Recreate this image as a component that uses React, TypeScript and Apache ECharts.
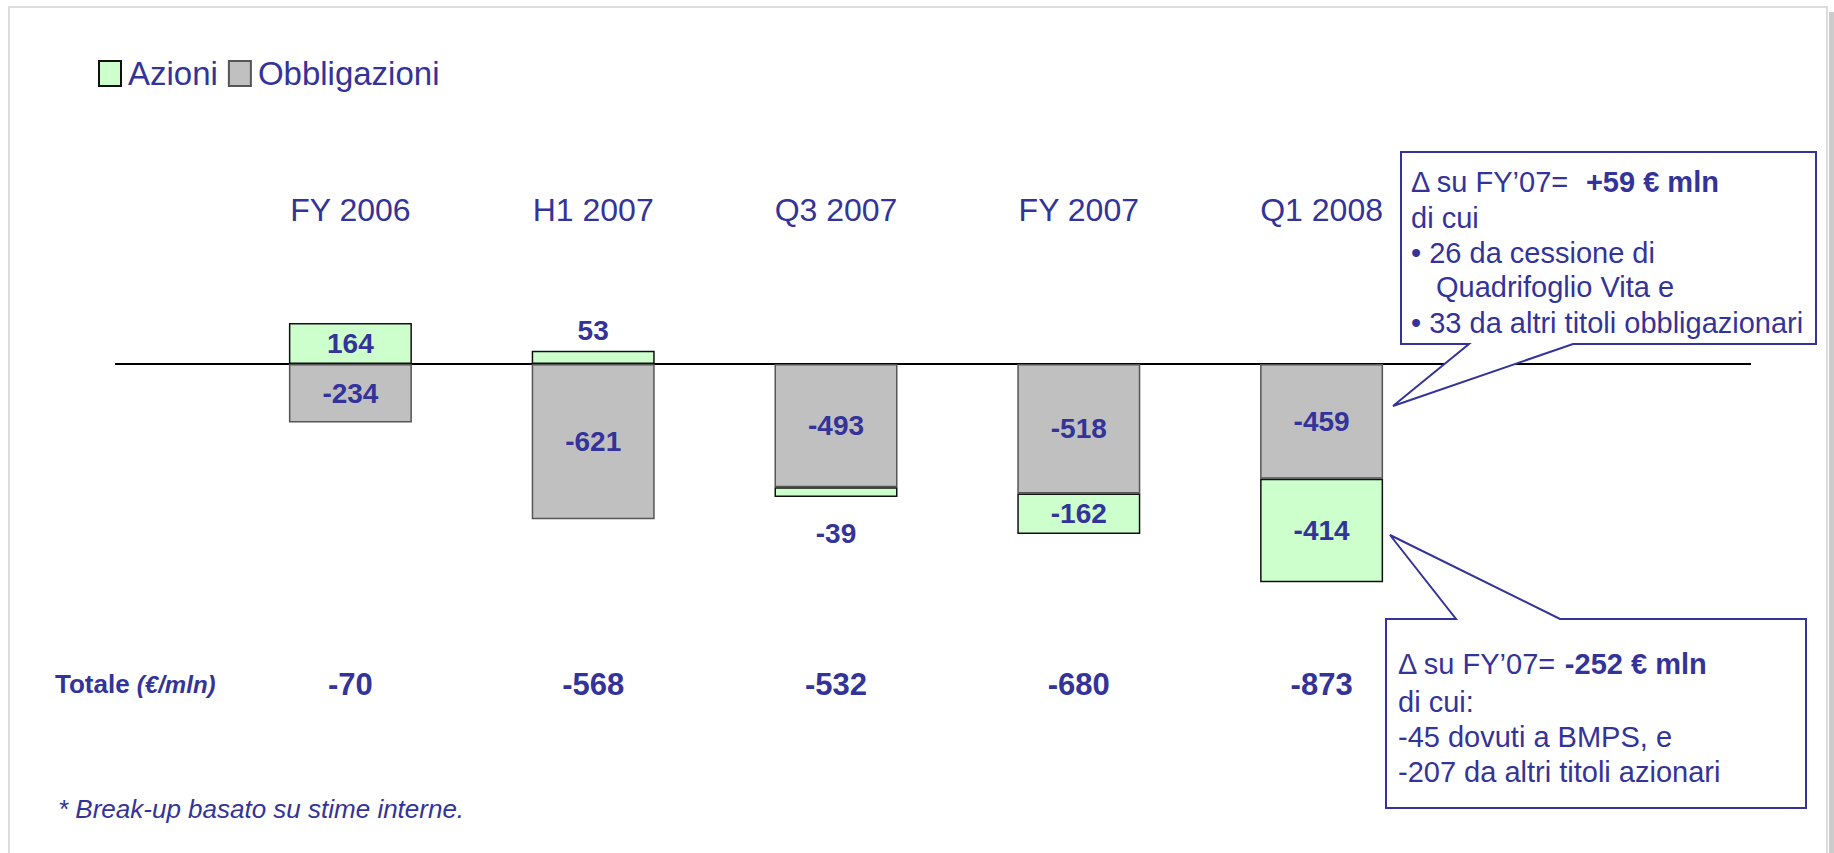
import React, { useEffect, useRef } from "react";
import * as echarts from "echarts";

const categories = ["FY 2006", "H1 2007", "Q3 2007", "FY 2007", "Q1 2008"];
const azioni = [164, 53, -39, -162, -414];
const obbligazioni = [-234, -621, -493, -518, -459];
const totals = [-70, -568, -532, -680, -873];

const seriesNames = ["Azioni", "Obbligazioni"];
const totalLabel = ["Totale ", "(€/mln)"];
const footnote = "* Break-up basato su stime interne.";
const note1 = ["Δ su FY’07=  ", "+59 € mln", "di cui", "• 26 da cessione di", "Quadrifoglio Vita e", "• 33 da altri titoli obbligazionari"];
const note2 = ["Δ su FY’07= ", "-252 € mln", "di cui:", "-45 dovuti a BMPS, e", "-207 da altri titoli azionari"];

const BLUE = "#333399";
const FONT = "'Liberation Sans', Arial, Helvetica, sans-serif";
const NOTE_FS = 29;

export default function App() {
  const ref = useRef<HTMLDivElement>(null);
  useEffect(() => {
    if (!ref.current) return;
    const chart = echarts.init(ref.current, null, { renderer: "svg" });
    const labelBase = {
      show: true,
      color: BLUE,
      fontFamily: FONT,
      fontWeight: "bold" as const,
      fontSize: 28,
    };
    chart.setOption({
      animation: false,
      backgroundColor: "#ffffff",
      legend: {
        data: seriesNames,
        left: 93,
        top: 52,
        itemWidth: 22,
        itemHeight: 25,
        itemGap: 10,
        icon: "rect",
        textStyle: { color: BLUE, fontFamily: FONT, fontSize: 33, padding: [0, 0, 0, 2] },
      },
      grid: { left: 229, width: 1214, top: 264, height: 325, containLabel: false },
      xAxis: [
        {
          type: "category",
          data: categories,
          position: "top",
          axisLine: { show: false },
          axisTick: { show: false },
          axisLabel: { color: BLUE, fontFamily: FONT, fontSize: 32, margin: 38 },
        },
        {
          type: "category",
          data: categories,
          position: "bottom",
          axisLine: { show: false },
          axisTick: { show: false },
          axisLabel: {
            color: BLUE,
            fontFamily: FONT,
            fontSize: 31,
            fontWeight: "bold",
            margin: 80,
            formatter: (_v: string, i: number) => String(totals[i]),
          },
        },
      ],
      yAxis: {
        type: "value",
        min: -900,
        max: 400,
        show: false,
        splitLine: { show: false },
      },
      series: [
        {
          name: "Obbligazioni",
          type: "bar",
          stack: "tot",
          barWidth: 123,
          data: obbligazioni,
          itemStyle: { color: "#C0C0C0", borderColor: "#555555", borderWidth: 1.5 },
          label: { ...labelBase, position: "inside" },
        },
        {
          name: "Azioni",
          type: "bar",
          stack: "tot",
          barWidth: 123,
          data: azioni.map((v) => ({
            value: v,
            label:
              Math.abs(v) < 60
                ? { position: v > 0 ? "top" : "bottom", distance: v > 0 ? 6 : 22 }
                : { position: "inside" },
          })),
          itemStyle: { color: "#CCFFCC", borderColor: "#111111", borderWidth: 1.5 },
          label: { ...labelBase },
        },
      ],
    });

    const zeroY = chart.convertToPixel({ yAxisIndex: 0 }, 0) as number;
    const t = (x: number, y: number, text: string, extra: any = {}) => ({
      type: "text",
      x,
      y,
      silent: true,
      style: {
        text,
        fill: BLUE,
        font: `${NOTE_FS}px ${FONT}`,
        textVerticalAlign: "middle",
        ...extra,
      },
    });
    const richLine = (x: number, y: number, a: string, b: string) => ({
      type: "text",
      x,
      y,
      silent: true,
      style: {
        text: `{r|${a}}{b|${b}}`,
        textVerticalAlign: "middle",
        rich: {
          r: { fill: BLUE, fontFamily: FONT, fontSize: NOTE_FS },
          b: { fill: BLUE, fontFamily: FONT, fontSize: NOTE_FS, fontWeight: "bold" },
        },
      },
    });
    chart.setOption({
      graphic: [
        {
          type: "rect",
          shape: { x: 9, y: 7, width: 1818, height: 860 },
          style: { fill: "none", stroke: "#dcdcdc", lineWidth: 2 },
          silent: true,
        },
        {
          type: "rect",
          shape: { x: 1829, y: 12, width: 6, height: 845 },
          style: { fill: "#cccccc" },
          silent: true,
        },
        {
          type: "line",
          shape: { x1: 115, y1: zeroY, x2: 1751, y2: zeroY },
          style: { stroke: "#000000", lineWidth: 2 },
          silent: true,
        },
        {
          type: "polygon",
          shape: {
            points: [
              [1401, 152],
              [1816, 152],
              [1816, 344],
              [1573, 344],
              [1393, 406],
              [1469, 344],
              [1401, 344],
            ],
          },
          style: { fill: "#ffffff", stroke: BLUE, lineWidth: 2 },
          silent: true,
        },
        {
          type: "polygon",
          shape: {
            points: [
              [1386, 619],
              [1456, 619],
              [1390, 535],
              [1560, 619],
              [1806, 619],
              [1806, 808],
              [1386, 808],
            ],
          },
          style: { fill: "#ffffff", stroke: BLUE, lineWidth: 2 },
          silent: true,
        },
        richLine(1411, 182, note1[0], note1[1]),
        t(1411, 218, note1[2]),
        t(1411, 253, note1[3]),
        t(1436, 287, note1[4]),
        t(1411, 323, note1[5]),
        richLine(1398, 664, note2[0], note2[1]),
        t(1398, 702, note2[2]),
        t(1398, 737, note2[3]),
        t(1398, 772, note2[4]),
        {
          type: "text",
          x: 55,
          y: 684,
          silent: true,
          style: {
            text: `{b|${totalLabel[0]}}{i|${totalLabel[1]}}`,
            textVerticalAlign: "middle",
            rich: {
              b: { fill: BLUE, fontFamily: FONT, fontSize: 26, fontWeight: "bold" },
              i: { fill: BLUE, fontFamily: FONT, fontSize: 24, fontWeight: "bold", fontStyle: "italic" },
            },
          },
        },
        t(58, 809, footnote, { font: `italic 26px ${FONT}` }),
      ],
    });
    return () => chart.dispose();
  }, []);
  return (
    <div
      ref={ref}
      style={{ position: "fixed", left: 0, top: 0, width: 1834, height: 853, background: "#fff" }}
    />
  );
}
